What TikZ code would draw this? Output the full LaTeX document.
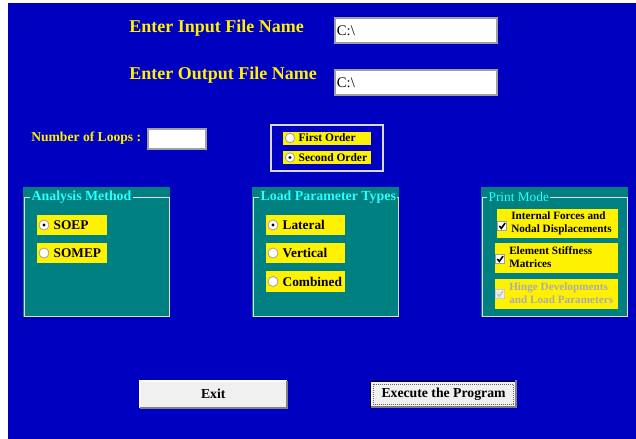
\documentclass[tikz,border=0pt]{standalone}
\usepackage{fontspec}
\setmainfont{Liberation Serif}
\usetikzlibrary{positioning}
\definecolor{formblue}{RGB}{0,0,192}
\definecolor{panelteal}{RGB}{0,128,128}
\definecolor{titlecyan}{RGB}{40,255,255}
\definecolor{btngray}{RGB}{240,240,240}
\definecolor{bevelgray}{RGB}{160,160,160}
\newcommand{\fs}[1]{\fontsize{#1}{#1}\selectfont}

\begin{document}
\begin{tikzpicture}[
  x=0.75pt, y=-0.75pt,
  heading/.style={anchor=west, inner sep=0, text=yellow, font=\bfseries\fs{13.5}},
  field/.style={draw=bevelgray, line width=1.5pt, fill=white, anchor=north west, inner sep=0},
  fieldtext/.style={anchor=west, inner sep=0, font=\fs{11}},
  panel/.style={fill=panelteal, anchor=north west, inner sep=0, minimum width=110.25pt, minimum height=97.5pt},
  frame/.style={draw=gray!25, line width=0.9pt, anchor=north west, inner sep=0, minimum width=108.75pt, minimum height=89.25pt},
  paneltitle/.style={anchor=west, fill=panelteal, inner sep=1pt, text=titlecyan, font=\bfseries\fs{10.4}},
  bar/.style={fill=yellow, anchor=north west, inner sep=0},
  radio/.style={circle, draw=bevelgray, fill=white, line width=0.6pt, minimum size=7.5pt, inner sep=0},
  chosen/.style={radio, path picture={\fill[black] (path picture bounding box.center) circle (1.2pt);}},
  checkbox/.style={draw=bevelgray, fill=white, line width=0.6pt, minimum size=7pt, inner sep=0},
  itemtext/.style={anchor=west, inner sep=0, font=\bfseries\fs{10}},
  printtext/.style={anchor=west, inner sep=0, align=left, font=\bfseries\fontsize{8.4}{9.8}\selectfont},
  button/.style={fill=btngray, anchor=north west, inner sep=0, minimum width=109.5pt, minimum height=19.5pt, font=\bfseries\fs{10.3}}
]
\useasboundingbox (0,0) rectangle (636,439);
\fill[formblue] (8,3) rectangle (636,439);

% file names
\node[heading] (inlabel) at (129,28) {Enter Input File Name};
\node[field, minimum width=121.5pt, minimum height=18.75pt] (infield) at (334,17) {};
\node[fieldtext] at ([xshift=2pt]infield.west) {C:\textbackslash};
\node[heading] (outlabel) at (129,75) {Enter Output File Name};
\node[field, minimum width=121.5pt, minimum height=18.75pt] (outfield) at (334,69) {};
\node[fieldtext] at ([xshift=2pt]outfield.west) {C:\textbackslash};

% loops and order
\node[heading, font=\bfseries\fs{10.2}] (loopslabel) at (31,138) {Number of Loops :};
\node[field, minimum width=43.5pt, minimum height=15pt] (loopsfield) at (147,128) {};
\node[draw=gray!30, line width=1.2pt, anchor=north west, inner sep=0, minimum width=84pt, minimum height=34.5pt] (orderframe) at (270,124) {};
\node[bar, minimum width=66pt, minimum height=9.5pt] (firstbar) at (283,132) {};
\node[radio, minimum size=7pt] (radfirst) at (290,138) {};
\node[itemtext, font=\bfseries\fs{8.6}, right=2.5pt of radfirst] {First Order};
\node[bar, minimum width=66pt, minimum height=9.5pt] (secondbar) at (283,151) {};
\node[chosen, minimum size=7pt] (radsecond) at (290,157.5) {};
\node[itemtext, font=\bfseries\fs{8.6}, right=2.5pt of radsecond] {Second Order};

% analysis method
\node[panel] (methodpanel) at (23,187) {};
\node[frame] (methodframe) at (24,197) {};
\node[paneltitle] at (30,197) {Analysis Method};
\node[bar, minimum width=52.5pt, minimum height=15pt] (soepbar) at (37,215) {};
\node[chosen] (radsoep) at (44,225) {};
\node[itemtext, right=3pt of radsoep] {SOEP};
\node[bar, minimum width=52.5pt, minimum height=15pt] (somepbar) at (37,243) {};
\node[radio] (radsomep) at (44,253) {};
\node[itemtext, right=3pt of radsomep] {SOMEP};

% load parameter types
\node[panel] (loadpanel) at (252,187) {};
\node[frame] (loadframe) at (253,197) {};
\node[paneltitle] at (259,197) {Load Parameter Types};
\node[bar, minimum width=59.25pt, minimum height=15pt] (latbar) at (266,215) {};
\node[chosen] (radlat) at (273,225) {};
\node[itemtext, right=3pt of radlat] {Lateral};
\node[bar, minimum width=59.25pt, minimum height=15pt] (vertbar) at (266,243) {};
\node[radio] (radvert) at (273,253) {};
\node[itemtext, right=3pt of radvert] {Vertical};
\node[bar, minimum width=59.25pt, minimum height=15.75pt] (combbar) at (266,271) {};
\node[radio] (radcomb) at (273,281.5) {};
\node[itemtext, right=3pt of radcomb] {Combined};

% print mode
\node[panel] (printpanel) at (481,187) {};
\node[frame] (printframe) at (482,197) {};
\node[paneltitle, font=\fs{10}] at (487,197) {Print Mode};
\node[bar, minimum width=90.75pt, minimum height=21.75pt] (forcebar) at (497,209) {};
\node[checkbox] (chkforce) at (502,226) {};
\draw[line width=1.2pt] ([xshift=-2pt]chkforce.center) -- ++(1.5pt,-1.8pt) -- ++(2.8pt,4pt);
\node[printtext] at (511,223.5) {Internal Forces and\\Nodal Displacements};
\node[bar, minimum width=92.25pt, minimum height=22.5pt] (stiffbar) at (495,243) {};
\node[checkbox] (chkstiff) at (500,259) {};
\draw[line width=1.2pt] ([xshift=-2pt]chkstiff.center) -- ++(1.5pt,-1.8pt) -- ++(2.8pt,4pt);
\node[printtext] at (509,257.5) {Element Stiffness\\Matrices};
\node[bar, minimum width=92.25pt, minimum height=22pt] (hingebar) at (495,279) {};
\node[checkbox, draw=gray!40, fill=gray!15] (chkhinge) at (500,294) {};
\draw[line width=1.2pt, gray!45] ([xshift=-2pt]chkhinge.center) -- ++(1.5pt,-1.8pt) -- ++(2.8pt,4pt);
\node[printtext, text=gray!65] at (509,293.5) {Hinge Developments\\and Load Parameters};

% buttons
\node[button] (exitbtn) at (140,381) {Exit};
\draw[white, line width=1pt] (exitbtn.south west) -- (exitbtn.north west) -- (exitbtn.north east);
\draw[gray, line width=1.5pt] (exitbtn.north east) -- (exitbtn.south east) -- (exitbtn.south west);
\node[button, draw=black, line width=0.8pt] (execbtn) at (370,381) {Execute the Program};
\draw[gray, line width=1.2pt] ([shift={(-1pt,1pt)}]execbtn.north east) -- ([shift={(-1pt,1pt)}]execbtn.south east) -- ([shift={(1pt,1pt)}]execbtn.south west);
\draw[densely dotted, gray!80!black, line width=0.5pt] ([shift={(2.5pt,-2.5pt)}]execbtn.north west) rectangle ([shift={(-2.5pt,2.5pt)}]execbtn.south east);
\end{tikzpicture}
\end{document}
